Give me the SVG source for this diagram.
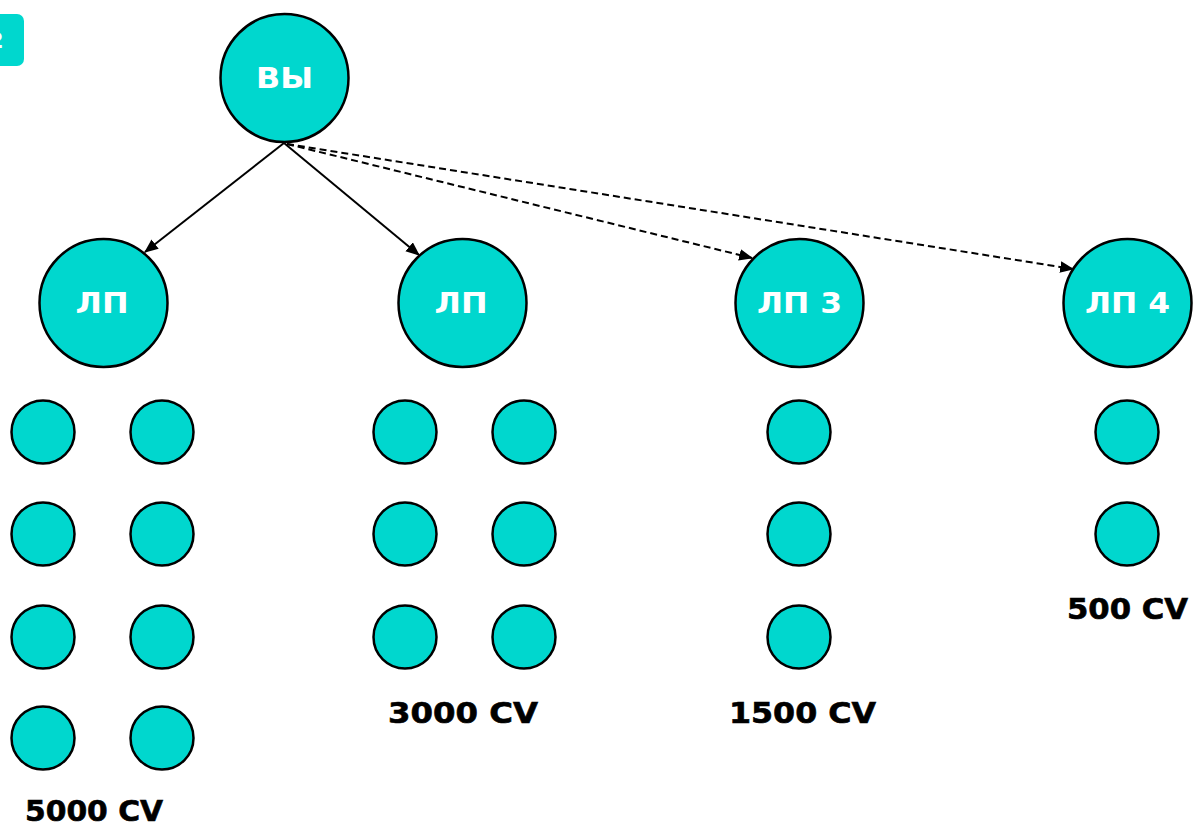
<svg xmlns="http://www.w3.org/2000/svg" width="1193" height="825" viewBox="0 0 1193 825">
<defs>
<style>
.node{fill:#00D7CE;stroke:#000;stroke-width:2.5}
.big{font-family:"DejaVu Sans","Liberation Sans",sans-serif;font-weight:bold;font-size:28px;fill:#fff;text-anchor:middle}
.lbl{font-family:"DejaVu Sans","Liberation Sans",sans-serif;font-weight:bold;font-size:28px;fill:#000;stroke:#000;stroke-width:0.6}
.edge{stroke:#000;stroke-width:2;fill:none;marker-end:url(#ah)}
.dash{stroke-dasharray:7 4}
</style>
<marker id="ah" viewBox="0 0 12 10" refX="11" refY="5" markerWidth="14" markerHeight="12" markerUnits="userSpaceOnUse" orient="auto">
<path d="M0,0 L12,5 L0,10 Z" fill="#000"/>
</marker>
</defs>
<rect width="1193" height="825" fill="#fff"/>
<g id="badge">
<rect x="-12" y="14" width="36" height="52" rx="7" fill="#00D7CE"/>
<text x="-4" y="48" font-family="DejaVu Sans,sans-serif" font-weight="bold" font-size="22" fill="#fff" text-anchor="middle">2</text>
</g>
<g id="connectors">
<line class="edge" x1="284" y1="143" x2="145" y2="252"/>
<line class="edge" x1="284" y1="143" x2="419" y2="255"/>
<line class="edge dash" x1="287" y1="144" x2="752" y2="258"/>
<line class="edge dash" x1="287" y1="144" x2="1073" y2="269"/>
</g>
<g id="you"><circle class="node" cx="284.5" cy="78" r="64"/><text class="big" x="284.5" y="88" textLength="57" lengthAdjust="spacingAndGlyphs">ВЫ</text></g>
<g id="lp1"><circle class="node" cx="103.5" cy="303" r="64"/><text class="big" x="102" y="313" textLength="53" lengthAdjust="spacingAndGlyphs">ЛП</text></g>
<g id="lp2"><circle class="node" cx="462.5" cy="303" r="64"/><text class="big" x="461" y="313" textLength="53" lengthAdjust="spacingAndGlyphs">ЛП</text></g>
<g id="lp3"><circle class="node" cx="799.5" cy="303" r="64"/><text class="big" x="799.5" y="313" textLength="85" lengthAdjust="spacingAndGlyphs">ЛП 3</text></g>
<g id="lp4"><circle class="node" cx="1127.5" cy="303" r="64"/><text class="big" x="1127.5" y="313" textLength="85" lengthAdjust="spacingAndGlyphs">ЛП 4</text></g>
<g id="group1">
<circle class="node" cx="43" cy="432" r="31.5"/><circle class="node" cx="162" cy="432" r="31.5"/>
<circle class="node" cx="43" cy="534" r="31.5"/><circle class="node" cx="162" cy="534" r="31.5"/>
<circle class="node" cx="43" cy="637" r="31.5"/><circle class="node" cx="162" cy="637" r="31.5"/>
<circle class="node" cx="43" cy="738" r="31.5"/><circle class="node" cx="162" cy="738" r="31.5"/>
<text class="lbl" x="25" y="821" textLength="138" lengthAdjust="spacingAndGlyphs">5000 CV</text>
</g>
<g id="group2">
<circle class="node" cx="405" cy="432" r="31.5"/><circle class="node" cx="524" cy="432" r="31.5"/>
<circle class="node" cx="405" cy="534" r="31.5"/><circle class="node" cx="524" cy="534" r="31.5"/>
<circle class="node" cx="405" cy="637" r="31.5"/><circle class="node" cx="524" cy="637" r="31.5"/>
<text class="lbl" x="388" y="723" textLength="150" lengthAdjust="spacingAndGlyphs">3000 CV</text>
</g>
<g id="group3">
<circle class="node" cx="799" cy="432" r="31.5"/>
<circle class="node" cx="799" cy="534" r="31.5"/>
<circle class="node" cx="799" cy="637" r="31.5"/>
<text class="lbl" x="729" y="723" textLength="147" lengthAdjust="spacingAndGlyphs">1500 CV</text>
</g>
<g id="group4">
<circle class="node" cx="1127" cy="432" r="31.5"/>
<circle class="node" cx="1127" cy="534" r="31.5"/>
<text class="lbl" x="1067" y="619" textLength="121" lengthAdjust="spacingAndGlyphs">500 CV</text>
</g>
</svg>
